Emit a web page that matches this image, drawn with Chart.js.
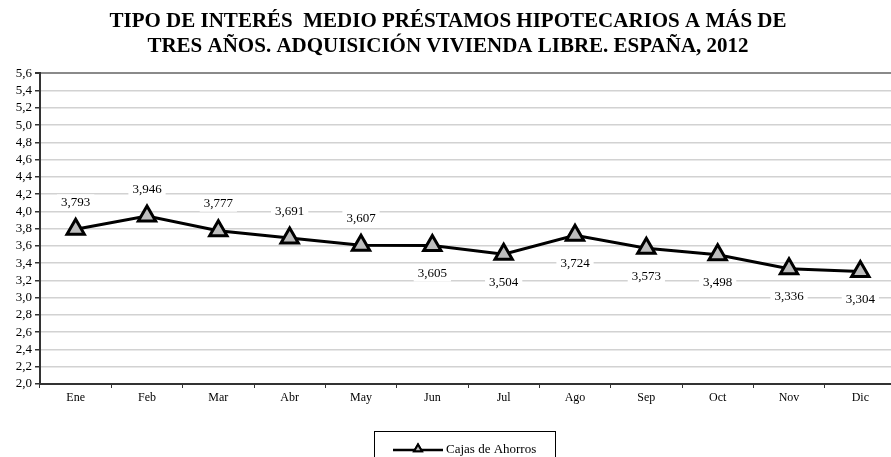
<!DOCTYPE html>
<html>
<head>
<meta charset="utf-8">
<script src="https://cdn.jsdelivr.net/npm/chart.js@4/dist/chart.umd.min.js"></script>
<style>
  html, body { margin: 0; padding: 0; background: #fff; overflow: hidden; }
  .caja { width: 910px; height: 457px; }
</style>
</head>
<body>
<div class="caja"><canvas id="grafico"></canvas></div>
<script>
const meses = ['Ene', 'Feb', 'Mar', 'Abr', 'May', 'Jun', 'Jul', 'Ago', 'Sep', 'Oct', 'Nov', 'Dic']
const cajasAhorros = [3.793, 3.946, 3.777, 3.691, 3.607, 3.605, 3.504, 3.724, 3.573, 3.498, 3.336, 3.304]
const ejeMin = 2.0
const ejeMax = 5.6
const ejePaso = 0.2

const titulo = ['TIPO DE INTERÉS  MEDIO PRÉSTAMOS HIPOTECARIOS A MÁS DE', 'TRES AÑOS. ADQUISICIÓN VIVIENDA LIBRE. ESPAÑA, 2012']
// etiquetas encima en los 5 primeros meses, debajo en el resto
const etiquetaArriba = [true, true, true, true, true, false, false, false, false, false, false, false]

const coma = (v, d) => v.toFixed(d).replace('.', ',')

Chart.defaults.font.family = "'Liberation Serif', 'Times New Roman', serif"
Chart.defaults.color = '#000'

const etiquetasPlugin = {
    id: 'etiquetas',
    afterDatasetsDraw(chart) {
        const ctx = chart.ctx
        const meta = chart.getDatasetMeta(0)
        ctx.save()
        ctx.font = "13px 'Liberation Serif'"
        ctx.textAlign = 'center'
        ctx.textBaseline = 'middle'
        meta.data.forEach((p, i) => {
            const txt = coma(chart.data.datasets[0].data[i], 3)
            const y = etiquetaArriba[i] ? p.y - 27 : p.y + 28
            const w = ctx.measureText(txt).width
            ctx.fillStyle = '#fff'
            ctx.fillRect(p.x - w / 2 - 4, y - 8, w + 8, 16)
            ctx.fillStyle = '#000'
            ctx.fillText(txt, p.x, y)
        })
        ctx.restore()
    }
}

const leyendaPlugin = {
    id: 'leyendaCaja',
    afterDraw(chart) {
        const ctx = chart.ctx
        const a = chart.chartArea
        const cx = (a.left + a.right) / 2 - 3
        const top = a.bottom + 47
        ctx.save()
        ctx.strokeStyle = '#000'
        ctx.lineWidth = 1
        ctx.strokeRect(cx - 90.5, top + 0.5, 181, 40)
        const ly = top + 19
        ctx.lineWidth = 2.5
        ctx.beginPath()
        ctx.moveTo(cx - 72, ly)
        ctx.lineTo(cx - 22, ly)
        ctx.stroke()
        ctx.lineWidth = 2
        ctx.fillStyle = '#bdbdbd'
        Chart.helpers.drawPoint(ctx, { pointStyle: 'triangle', radius: 4.5, borderWidth: 2 }, cx - 47, ly - 1)
        ctx.fill()
        ctx.stroke()
        ctx.fillStyle = '#000'
        ctx.font = "13px 'Liberation Serif'"
        ctx.textBaseline = 'middle'
        ctx.fillText(chart.data.datasets[0].label, cx - 19, ly)
        ctx.restore()
    }
}

new Chart(document.getElementById('grafico'), {
    type: 'line',
    data: {
        labels: meses,
        datasets: [{
            label: 'Cajas de Ahorros',
            data: cajasAhorros,
            borderColor: '#000',
            borderWidth: 3,
            tension: 0,
            pointStyle: 'triangle',
            pointRadius: 10,
            pointHoverRadius: 10,
            pointBackgroundColor: '#bdbdbd',
            pointBorderColor: '#000',
            pointBorderWidth: 3
        }]
    },
    options: {
        responsive: true,
        maintainAspectRatio: false,
        animation: false,
        layout: { padding: { left: 0, right: 14, bottom: 45 } },
        plugins: {
            legend: { display: false },
            tooltip: { enabled: false },
            title: {
                display: true,
                text: titulo,
                font: { family: "'Liberation Serif', serif", size: 21, weight: 'bold', lineHeight: 1.2 },
                color: '#000',
                padding: { top: 9, bottom: 14 }
            }
        },
        scales: {
            x: {
                offset: true,
                grid: {
                    offset: true,
                    drawOnChartArea: false,
                    drawTicks: true,
                    tickLength: 4,
                    color: '#333'
                },
                border: { color: '#333', width: 2 },
                ticks: { font: { size: 12 }, padding: 3, maxRotation: 0, autoSkip: false },
                afterFit(s) { s.height = 28 }
            },
            y: {
                min: ejeMin,
                max: ejeMax,
                ticks: {
                    stepSize: ejePaso,
                    autoSkip: false,
                    font: { size: 13 },
                    padding: 3,
                    callback: v => coma(v, 1)
                },
                grid: {
                    color: c => (c.tick && Math.abs(c.tick.value - ejeMax) < 1e-6) ? '#8a8a8a' : '#d2d2d2',
                    lineWidth: c => (c.tick && Math.abs(c.tick.value - ejeMax) < 1e-6) ? 2 : 1.5,
                    tickColor: '#333',
                    tickLength: 5
                },
                border: { color: '#333', width: 2 },
                afterFit(s) { s.width = 40 }
            }
        }
    },
    plugins: [etiquetasPlugin, leyendaPlugin]
})
</script>
</body>
</html>
